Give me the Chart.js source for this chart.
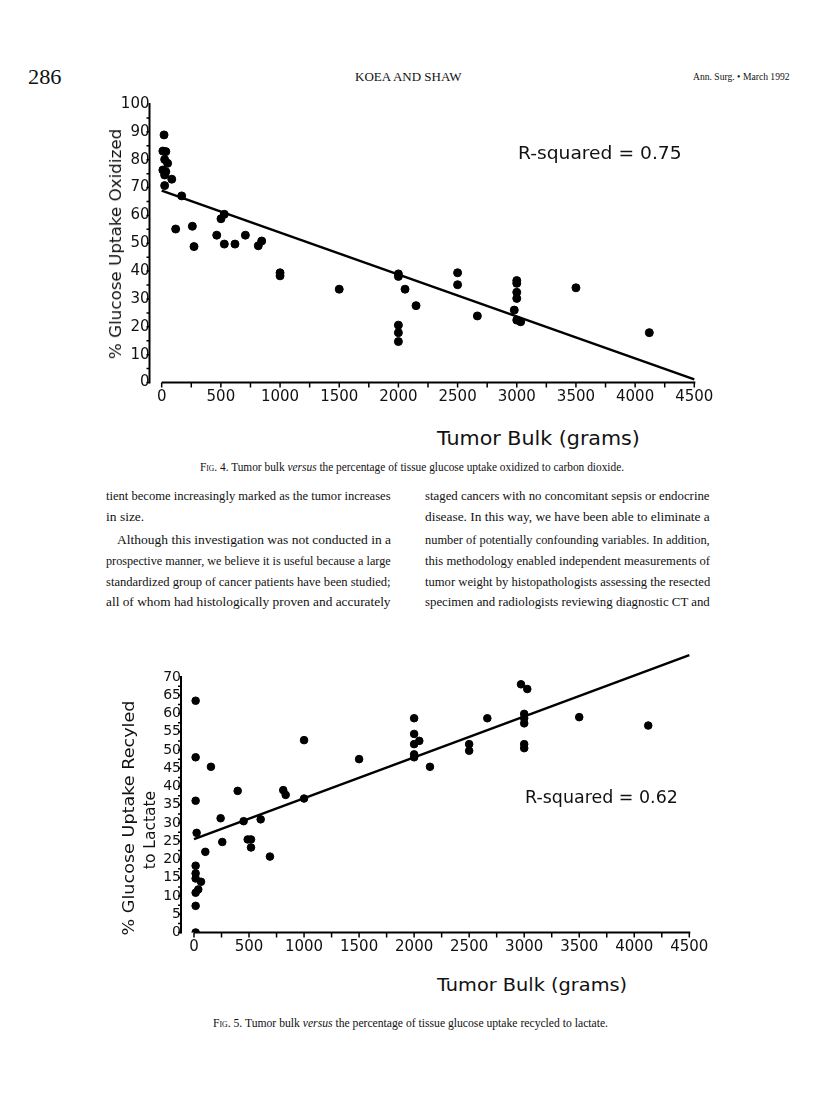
<!DOCTYPE html>
<html>
<head>
<meta charset="utf-8">
<script src="https://cdn.jsdelivr.net/npm/chart.js@4.4.1/dist/chart.umd.min.js"></script>
<style>
  html, body { margin: 0; padding: 0; background: #fff; }
  #page { position: relative; width: 816px; height: 1116px; overflow: hidden; }
  .t { position: absolute; white-space: nowrap; color: #111; line-height: 20px; height: 20px; transform-origin: 0 50%; }
  .serif { font-family: "Liberation Serif", "Times New Roman", serif; }
  .sans { font-family: "DejaVu Sans", sans-serif; }
  .rot { position: absolute; white-space: nowrap; color: #111; line-height: 20px; font-family: "DejaVu Sans", sans-serif; }
  .box { position: absolute; left: 0; width: 816px; }
  .sc { font-variant: small-caps; }
</style>
</head>
<body>
<div id="page">
  <!-- running head -->
  <div class="t serif fit" data-w="34" style="left:28px;top:67px;font-size:21px">286</div>
  <div class="t serif fit" data-w="107" style="left:355px;top:67px;font-size:13px">KOEA AND SHAW</div>
  <div class="t serif fit" data-w="97" style="left:693px;top:67px;font-size:10px">Ann. Surg. • March 1992</div>

  <!-- fig 4 -->
  <div class="box" style="top:80px;height:340px"><canvas id="chart1"></canvas></div>
  <div class="rot" data-w="230" style="left:116px;top:244px;font-size:15.5px">% Glucose Uptake Oxidized</div>
  <div class="t sans fit" data-w="164" style="left:518px;top:143px;font-size:18px">R-squared = 0.75</div>
  <div class="t sans fit" data-w="203" style="left:437px;top:428px;font-size:19px">Tumor Bulk (grams)</div>
  <div class="t serif fit" data-w="424" style="left:200px;top:457px;font-size:12px"><span class="sc">Fig.</span> 4. Tumor bulk <i>versus</i> the percentage of tissue glucose uptake oxidized to carbon dioxide.</div>

  <!-- body text -->
  <div class="t serif fit" data-w="285" style="left:106px;top:486px;font-size:13.5px">tient become increasingly marked as the tumor increases</div>
  <div class="t serif" style="left:106px;top:507px;font-size:13.5px">in size.</div>
  <div class="t serif fit" data-w="274" style="left:117px;top:530px;font-size:13.5px">Although this investigation was not conducted in a</div>
  <div class="t serif fit" data-w="285" style="left:106px;top:551px;font-size:13.5px">prospective manner, we believe it is useful because a large</div>
  <div class="t serif fit" data-w="285" style="left:106px;top:572px;font-size:13.5px">standardized group of cancer patients have been studied;</div>
  <div class="t serif fit" data-w="285" style="left:106px;top:592px;font-size:13.5px">all of whom had histologically proven and accurately</div>

  <div class="t serif fit" data-w="285" style="left:425px;top:486px;font-size:13.5px">staged cancers with no concomitant sepsis or endocrine</div>
  <div class="t serif fit" data-w="285" style="left:425px;top:507px;font-size:13.5px">disease. In this way, we have been able to eliminate a</div>
  <div class="t serif fit" data-w="285" style="left:425px;top:530px;font-size:13.5px">number of potentially confounding variables. In addition,</div>
  <div class="t serif fit" data-w="285" style="left:425px;top:551px;font-size:13.5px">this methodology enabled independent measurements of</div>
  <div class="t serif fit" data-w="285" style="left:425px;top:572px;font-size:13.5px">tumor weight by histopathologists assessing the resected</div>
  <div class="t serif fit" data-w="285" style="left:425px;top:592px;font-size:13.5px">specimen and radiologists reviewing diagnostic CT and</div>

  <!-- fig 5 -->
  <div class="box" style="top:650px;height:320px"><canvas id="chart2"></canvas></div>
  <div class="rot" data-w="235" style="left:129px;top:818px;font-size:15.5px">% Glucose Uptake Recyled</div>
  <div class="rot" style="left:150px;top:830px;font-size:15.5px">to Lactate</div>
  <div class="t sans fit" data-w="153" style="left:525px;top:787px;font-size:17px">R-squared = 0.62</div>
  <div class="t sans fit" data-w="190" style="left:437px;top:975px;font-size:18px">Tumor Bulk (grams)</div>
  <div class="t serif fit" data-w="395" style="left:213px;top:1013px;font-size:12px"><span class="sc">Fig.</span> 5. Tumor bulk <i>versus</i> the percentage of tissue glucose uptake recycled to lactate.</div>
</div>

<script>
// Fig. 4: tumor bulk (g) vs % glucose uptake oxidized
const oxBulk = [20, 10, 35, 25, 50, 10, 35, 25, 85, 25,
  169, 118, 259, 273, 501, 529, 465, 529, 619, 707, 816, 845,
  1000, 1000, 1500, 2000, 2000, 2056, 2149, 2000, 2000, 2000,
  2500, 2500, 2667, 3000, 3000, 3000, 3000, 2979, 3000, 3033, 3500, 4120];
const oxPercent = [88.9, 83.1, 82.9, 80.1, 78.7, 76.3, 75.7, 74.5, 73.0, 70.7,
  67.0, 55.1, 56.1, 48.8, 58.8, 60.4, 52.9, 49.7, 49.7, 52.9, 49.1, 50.8,
  39.4, 38.3, 33.5, 39.0, 38.1, 33.5, 27.6, 20.6, 17.9, 14.7,
  39.4, 35.1, 23.9, 36.6, 35.6, 32.4, 30.2, 26.0, 22.4, 21.8, 34.0, 17.9];
const oxFitBulk = [0, 4500];
const oxFitPercent = [68.9, 1.1];

// Fig. 5: tumor bulk (g) vs % glucose uptake recycled to lactate
const lacBulk = [15, 15, 15, 24, 15, 15, 15, 64, 39, 15, 15, 15,
  103, 154, 242, 257, 397, 451, 488, 518, 518, 606, 690, 811, 833,
  1000, 1000, 1500, 2000, 2000, 2000, 2047, 2000, 2000, 2144,
  2500, 2500, 2665, 2971, 3028, 3000, 3000, 3000, 3000, 3000, 3500, 4127];
const lacPercent = [63.5, 48.0, 36.1, 27.3, 18.3, 16.2, 14.8, 13.9, 11.8, 10.9, 7.3, 0,
  22.1, 45.4, 31.3, 24.8, 38.8, 30.5, 25.5, 25.5, 23.3, 31.0, 20.8, 39.0, 37.7,
  52.7, 36.7, 47.5, 58.7, 54.4, 51.6, 52.5, 48.8, 48.0, 45.4,
  51.6, 49.8, 58.7, 68.0, 66.7, 59.9, 58.7, 57.3, 51.6, 50.5, 59.0, 56.7];
const lacFitBulk = [0, 4500];
const lacFitPercent = [25.6, 76.0];

const bulkTicks = [0, 500, 1000, 1500, 2000, 2500, 3000, 3500, 4000, 4500];
const oxTicks = [0, 10, 20, 30, 40, 50, 60, 70, 80, 90, 100];
const lacTicks = [0, 5, 10, 15, 20, 25, 30, 35, 40, 45, 50, 55, 60, 65, 70];

// hand-drawn style axes: y axis at the left edge, x axis only from 0 to 4500
const axisLines = {
  id: 'axisLines',
  beforeDatasetsDraw(chart, args, opts) {
    const ctx = chart.ctx;
    const xs = chart.scales.x, ys = chart.scales.y;
    const left = chart.chartArea.left;
    const y0 = ys.getPixelForValue(0);
    const xT = opts.xTicks, yT = opts.yTicks;
    ctx.save();
    ctx.strokeStyle = '#000';
    ctx.lineWidth = 2;
    ctx.beginPath();
    ctx.moveTo(left, y0 + 1);
    ctx.lineTo(left, ys.getPixelForValue(yT[yT.length - 1]) - 1);
    ctx.moveTo(xs.getPixelForValue(xT[0]), y0);
    ctx.lineTo(xs.getPixelForValue(xT[xT.length - 1]) + 1, y0);
    ctx.stroke();

    ctx.lineWidth = 1.5;
    ctx.beginPath();
    for (let i = 0; i < xT.length; i++) {
      const vals = i < xT.length - 1 ? [xT[i], (xT[i] + xT[i + 1]) / 2] : [xT[i]];
      vals.forEach(v => {
        const px = xs.getPixelForValue(v);
        ctx.moveTo(px, y0);
        ctx.lineTo(px, y0 + 5);
      });
    }
    for (let i = 0; i < yT.length - 1; i++) {
      [yT[i], (yT[i] + yT[i + 1]) / 2].forEach(v => {
        const py = ys.getPixelForValue(v);
        ctx.moveTo(left, py);
        ctx.lineTo(left - 3, py);
      });
    }
    ctx.stroke();
    ctx.restore();
  }
};

function makeChart(id, bulk, pct, fitX, fitY, yTicks, cfg) {
  return new Chart(document.getElementById(id), {
    type: 'scatter',
    data: {
      datasets: [
        {
          data: bulk.map((x, i) => ({ x: x, y: pct[i] })),
          backgroundColor: '#000',
          borderColor: '#000',
          pointRadius: cfg.dot,
          pointHoverRadius: cfg.dot
        },
        {
          type: 'line',
          data: fitX.map((x, i) => ({ x: x, y: fitY[i] })),
          borderColor: '#000',
          borderWidth: 2.5,
          pointRadius: 0,
          fill: false,
          clip: false
        }
      ]
    },
    options: {
      responsive: true,
      maintainAspectRatio: false,
      animation: false,
      events: [],
      layout: { padding: cfg.pad },
      plugins: {
        legend: { display: false },
        tooltip: { enabled: false },
        axisLines: { xTicks: bulkTicks, yTicks: yTicks }
      },
      scales: {
        x: {
          type: 'linear',
          min: cfg.xMin,
          max: 4500,
          grid: { display: false, drawTicks: false },
          border: { display: false },
          afterBuildTicks: s => { s.ticks = bulkTicks.map(v => ({ value: v })); },
          afterFit: s => { s.height = 30; },
          ticks: {
            autoSkip: false, maxRotation: 0, padding: 6, color: '#111',
            font: { family: 'DejaVu Sans', size: cfg.xFont },
            callback: v => String(v)
          }
        },
        y: {
          type: 'linear',
          min: 0,
          max: yTicks[yTicks.length - 1],
          grid: { display: false, drawTicks: false },
          border: { display: false },
          afterBuildTicks: s => { s.ticks = yTicks.map(v => ({ value: v })); },
          afterFit: s => { s.width = 60; },
          ticks: {
            autoSkip: false, padding: 0, color: '#111',
            font: { family: 'DejaVu Sans', size: cfg.yFont },
            callback: v => String(v)
          }
        }
      }
    },
    plugins: [axisLines]
  });
}

makeChart('chart1', oxBulk, oxPercent, oxFitBulk, oxFitPercent, oxTicks, {
  dot: 4, xMin: -103, xFont: 15, yFont: 15,
  pad: { left: 89.5, right: 121.7, top: 24, bottom: 7.5 }
});
makeChart('chart2', lacBulk, lacPercent, lacFitBulk, lacFitPercent, lacTicks, {
  dot: 3.8, xMin: -118, xFont: 15, yFont: 14,
  pad: { left: 121, right: 126.7, top: 27, bottom: 7.5 }
});

// squeeze / stretch text lines to the widths of the scanned page
function fitText() {
  document.querySelectorAll('.fit').forEach(el => {
    const w = parseFloat(el.dataset.w);
    el.style.transform = 'scaleX(' + (w / el.offsetWidth) + ')';
  });
  document.querySelectorAll('.rot').forEach(el => {
    let k = 1;
    if (el.dataset.w) k = parseFloat(el.dataset.w) / el.offsetWidth;
    el.style.transform = 'translate(-50%, -50%) rotate(-90deg) scaleX(' + k + ')';
  });
}
document.fonts.ready.then(fitText);
fitText();
</script>
</body>
</html>
